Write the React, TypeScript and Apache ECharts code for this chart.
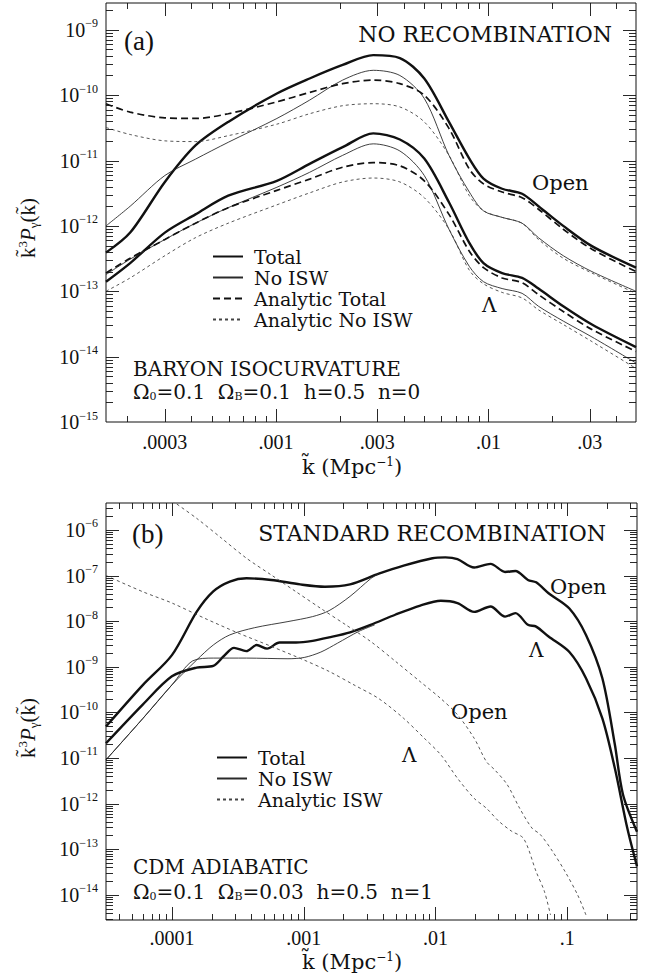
import React, { useEffect, useRef } from "react";
import * as echarts from "echarts";

const FONT = '"Liberation Serif", "Times New Roman", serif';
const WFONT = '"DejaVu Serif", "Liberation Serif", serif';
const INK = "#111";

// ---------- Panel (a): NO RECOMBINATION ----------
const aXMin = 1.585e-4;
const aXMax = 0.0495;
const aYMin = 1e-15;
const aYMax = 2.57e-9;
const aK = [1.585e-4, 2.06e-4, 3.0e-4, 4.18e-4, 5.96e-4, 1.01e-3, 1.44e-3, 2.06e-3, 2.87e-3, 3.83e-3, 4.99e-3, 6.52e-3, 8.13e-3, 9.48e-3, 1.16e-2, 1.44e-2, 1.72e-2, 2.25e-2, 3.07e-2, 4.95e-2];
const aOpenTotal = [3.9e-13, 7.9e-13, 4.7e-12, 1.7e-11, 3.9e-11, 1.06e-10, 1.8e-10, 2.9e-10, 4.1e-10, 3.7e-10, 1.8e-10, 3.9e-11, 1.07e-11, 5.3e-12, 3.7e-12, 3.1e-12, 2.0e-12, 1.0e-12, 4.9e-13, 2.3e-13];
const aOpenNoISW = [1.0e-12, 2.0e-12, 5.9e-12, 1.05e-11, 1.9e-11, 4.4e-11, 8.4e-11, 1.7e-10, 2.4e-10, 2.0e-10, 8.9e-11, 1.2e-11, 3.3e-12, 1.7e-12, 1.35e-12, 1.1e-12, 6.6e-13, 3.5e-13, 2.0e-13, 1.0e-13];
const aOpenAnaTotal = [7.4e-11, 5.5e-11, 4.5e-11, 4.4e-11, 5.2e-11, 7.9e-11, 1.1e-10, 1.5e-10, 1.7e-10, 1.5e-10, 1.0e-10, 3.1e-11, 7.4e-12, 4.4e-12, 3.3e-12, 2.7e-12, 1.8e-12, 8.9e-13, 4.4e-13, 2.0e-13];
const aOpenAnaNoISW = [3.2e-11, 2.5e-11, 2.0e-11, 1.95e-11, 2.4e-11, 3.6e-11, 5.2e-11, 6.9e-11, 7.4e-11, 6.6e-11, 3.9e-11, 1.2e-11, 2.9e-12, 1.7e-12, 1.35e-12, 1.1e-12, 6.2e-13, 3.2e-13, 1.9e-13, 9.3e-14];
const aLamTotal = [1.4e-13, 2.7e-13, 7.9e-13, 1.5e-12, 2.9e-12, 4.9e-12, 8.9e-12, 1.6e-11, 2.6e-11, 2.1e-11, 1.07e-11, 2.3e-12, 5.5e-13, 2.7e-13, 1.9e-13, 1.6e-13, 1.1e-13, 5.9e-14, 3.1e-14, 1.4e-14];
const aLamNoISW = [1.8e-13, 3.1e-13, 6.2e-13, 1.1e-12, 1.9e-12, 3.9e-12, 6.6e-12, 1.2e-11, 1.8e-11, 1.4e-11, 5.9e-12, 8.9e-13, 2.4e-13, 1.4e-13, 1.1e-13, 9.3e-14, 5.9e-14, 3.5e-14, 2.0e-14, 8.0e-15];
const aLamAnaTotal = [1.9e-13, 3.2e-13, 6.2e-13, 1.1e-12, 1.9e-12, 3.5e-12, 5.2e-12, 7.9e-12, 9.3e-12, 8.3e-12, 4.9e-12, 1.5e-12, 4.1e-13, 2.3e-13, 1.6e-13, 1.35e-13, 8.9e-14, 4.9e-14, 2.6e-14, 1.2e-14];
const aLamAnaNoISW = [1.0e-13, 1.6e-13, 3.5e-13, 6.6e-13, 1.1e-12, 2.1e-12, 3.2e-12, 4.7e-12, 5.4e-12, 4.7e-12, 2.7e-12, 8.9e-13, 2.1e-13, 1.3e-13, 9.6e-14, 7.9e-14, 5.2e-14, 3.1e-14, 1.7e-14, 6.6e-15];
const aXLabelVals = [0.0003, 0.001, 0.003, 0.01, 0.03];
const aXLabels = [".0003", ".001", ".003", ".01", ".03"];
const aYDecades = [1e-15, 1e-14, 1e-13, 1e-12, 1e-11, 1e-10, 1e-9];

// ---------- Panel (b): STANDARD RECOMBINATION ----------
const bXMin = 3.16e-5;
const bXMax = 0.339;
const bYMin = 2.8e-15;
const bYMax = 3.9e-6;
const bOpenTotal = [
  [3.16e-5, 4.9e-11], [6.03e-5, 4.0e-10], [1.0e-4, 1.8e-9], [1.54e-4, 1.6e-8], [2.06e-4, 4.5e-8],
  [2.75e-4, 7.4e-8], [3.68e-4, 8.7e-8], [5.68e-4, 8.0e-8], [9.4e-4, 6.4e-8], [1.45e-3, 5.7e-8],
  [2.25e-3, 6.4e-8], [3.72e-3, 1.1e-7], [5.74e-3, 1.65e-7], [9.5e-3, 2.4e-7], [1.19e-2, 2.5e-7],
  [1.47e-2, 2.3e-7], [1.97e-2, 1.5e-7], [2.62e-2, 1.8e-7], [3.38e-2, 1.2e-7], [4.05e-2, 1.26e-7],
  [5.04e-2, 8.0e-8], [5.82e-2, 7.1e-8], [7.23e-2, 4.1e-8], [0.104, 1.9e-8], [0.139, 5.0e-9],
  [0.185, 5.6e-10], [0.23, 2.0e-11], [0.265, 1.6e-12], [0.339, 2.4e-13],
];
const bLamTotal = [
  [3.16e-5, 2.1e-11], [6.03e-5, 1.5e-10], [1.0e-4, 6.2e-10], [1.54e-4, 9.6e-10], [2.06e-4, 1.04e-9],
  [2.47e-4, 1.7e-9], [2.96e-4, 2.6e-9], [3.67e-4, 2.2e-9], [4.4e-4, 3.0e-9], [5.28e-4, 2.5e-9],
  [6.56e-4, 3.4e-9], [8.77e-4, 3.4e-9], [1.17e-3, 3.7e-9], [1.56e-3, 4.4e-9], [2.25e-3, 5.7e-9],
  [3.22e-3, 8.3e-9], [5.0e-3, 1.4e-8], [7.68e-3, 2.2e-8], [1.1e-2, 2.8e-8], [1.47e-2, 2.5e-8],
  [1.97e-2, 1.6e-8], [2.62e-2, 2.1e-8], [3.38e-2, 1.26e-8], [4.05e-2, 1.5e-8], [5.04e-2, 8.3e-9],
  [5.82e-2, 7.6e-9], [7.23e-2, 4.6e-9], [0.104, 2.1e-9], [0.139, 5.6e-10], [0.185, 7.4e-11],
  [0.23, 6.0e-12], [0.286, 2.9e-13], [0.339, 4.2e-14],
];
const bOpenNoISW = [
  [3.16e-5, 9.1e-12], [6.03e-5, 7.4e-11], [1.0e-4, 4.0e-10], [1.54e-4, 1.4e-9], [2.06e-4, 3.0e-9],
  [2.75e-4, 5.0e-9], [4.25e-4, 7.2e-9], [7.6e-4, 9.8e-9], [1.17e-3, 1.26e-8], [1.56e-3, 1.7e-8],
  [2.25e-3, 3.5e-8], [3.22e-3, 8.5e-8], [3.72e-3, 1.1e-7],
];
const bLamNoISW = [
  [3.16e-5, 9.1e-12], [6.03e-5, 7.4e-11], [1.0e-4, 4.0e-10], [1.44e-4, 1.35e-9], [2.06e-4, 1.55e-9],
  [3.68e-4, 1.55e-9], [7.6e-4, 1.5e-9], [1.01e-3, 1.6e-9], [1.35e-3, 2.1e-9], [1.81e-3, 3.3e-9],
  [2.6e-3, 5.9e-9], [3.46e-3, 8.3e-9],
];
const bOpenAnaISW = [
  [1.0e-4, 4.4e-6], [1.54e-4, 1.8e-6], [2.38e-4, 6.6e-7], [3.68e-4, 2.4e-7], [5.68e-4, 1.03e-7],
  [8.77e-4, 4.4e-8], [1.35e-3, 1.9e-8], [2.09e-3, 8.3e-9], [3.22e-3, 3.6e-9], [5.0e-3, 1.3e-9],
  [7.68e-3, 4.7e-10], [1.1e-2, 2.0e-10], [1.47e-2, 8.9e-11], [1.97e-2, 2.7e-11], [2.44e-2, 8.3e-12],
  [2.82e-2, 5.5e-12], [3.51e-2, 2.6e-12], [4.36e-2, 7.9e-13], [5.41e-2, 2.9e-13], [6.25e-2, 2.1e-13],
  [7.76e-2, 8.9e-14], [9.66e-2, 3.2e-14], [0.12, 1.0e-14], [0.139, 3.6e-15],
];
const bLamAnaISW = [
  [3.16e-5, 1.0e-7], [6.03e-5, 4.4e-8], [1.0e-4, 2.5e-8], [1.78e-4, 1.15e-8], [3.18e-4, 5.5e-9],
  [5.68e-4, 2.8e-9], [1.01e-3, 1.4e-9], [1.56e-3, 7.9e-10], [2.41e-3, 4.0e-10], [3.72e-3, 2.0e-10],
  [5.74e-3, 7.4e-11], [8.24e-3, 2.7e-11], [1.1e-2, 1.17e-11], [1.47e-2, 3.6e-12], [1.97e-2, 1.3e-12],
  [2.44e-2, 7.9e-13], [3.03e-2, 4.1e-13], [3.77e-2, 2.5e-13], [4.68e-2, 1.7e-13], [5.82e-2, 3.2e-14],
  [6.71e-2, 1.2e-14], [7.48e-2, 3.6e-15],
];
const bXLabelVals = [0.0001, 0.001, 0.01, 0.1];
const bXLabels = [".0001", ".001", ".01", ".1"];
const bYDecades = [1e-14, 1e-13, 1e-12, 1e-11, 1e-10, 1e-9, 1e-8, 1e-7, 1e-6];

// ---------- helpers (axis decoration only) ----------
function minorTicks(lo: number, hi: number, skip: number[]) {
  const out: number[] = [];
  for (let e = Math.floor(Math.log10(lo)) - 1; e <= Math.ceil(Math.log10(hi)); e++) {
    for (let m = 1; m <= 9; m++) {
      const v = m * Math.pow(10, e);
      if (v > lo * 1.001 && v < hi * 0.999 && !skip.some((s) => Math.abs(s - v) / s < 1e-6)) out.push(v);
    }
  }
  return out;
}
const near = (vals: number[], v: number) => vals.findIndex((t) => Math.abs(t - v) / t < 1e-3);

const labelRich = {
  b: { fontFamily: FONT, fontSize: 20, color: INK },
  e: { fontFamily: FONT, fontSize: 12, color: INK, padding: [0, 0, 13, 0] },
};
const yFmt = (v: number) => {
  const ex = Math.round(Math.log10(v));
  return `{b|10}{e|\u2212${-ex}}`;
};

function logAxis(grid: number, min: number, max: number, pos: string, labelVals: number[], fmt: (v: number) => string, margin: number) {
  return {
    type: "log",
    logBase: 10,
    gridIndex: grid,
    min,
    max,
    position: pos,
    axisLine: { show: false, onZero: false },
    axisTick: { show: false },
    splitLine: { show: false },
    minorTick: { show: false },
    axisPointer: { show: false },
    silent: true,
    axisLabel: {
      show: true,
      customValues: labelVals,
      formatter: fmt,
      margin,
      fontFamily: FONT,
      fontSize: 20,
      color: INK,
      rich: labelRich,
    },
  };
}

// tick marks drawn through the axes' own scales (inside, mirrored on both sides)
function tickSeries(axisIdx: number, dir: "x" | "y", ticks: number[], len: number, other: number) {
  return {
    type: "custom",
    xAxisIndex: axisIdx,
    yAxisIndex: axisIdx,
    silent: true,
    clip: false,
    z: 4,
    data: ticks.map((t) => (dir === "x" ? [t, other] : [other, t])),
    encode: { x: 0, y: 1 },
    renderItem: (params: any, api: any) => {
      const cs = params.coordSys;
      const p = api.coord([api.value(0), api.value(1)]);
      const st = { stroke: INK, lineWidth: 0.9 };
      if (dir === "x") {
        const x = Math.round(p[0]) + 0.5;
        const b = cs.y + cs.height;
        return {
          type: "group",
          children: [
            { type: "line", shape: { x1: x, y1: b, x2: x, y2: b - len }, style: st },
            { type: "line", shape: { x1: x, y1: cs.y, x2: x, y2: cs.y + len }, style: st },
          ],
        };
      }
      const y = Math.round(p[1]) + 0.5;
      const r = cs.x + cs.width;
      return {
        type: "group",
        children: [
          { type: "line", shape: { x1: cs.x, y1: y, x2: cs.x + len, y2: y }, style: st },
          { type: "line", shape: { x1: r, y1: y, x2: r - len, y2: y }, style: st },
        ],
      };
    },
  };
}

function panelTicks(axisIdx: number, xr: number[], yr: number[], xMajor: number[], yMajor: number[]) {
  const xMinor = minorTicks(xr[0], xr[1], xMajor);
  const yMinor = minorTicks(yr[0], yr[1], yMajor);
  return [
    tickSeries(axisIdx, "x", xMajor, 13, yr[0]),
    tickSeries(axisIdx, "x", xMinor, 6, yr[0]),
    tickSeries(axisIdx, "y", yMajor.filter((v) => v > yr[0] * 1.001), 13, xr[0]),
    tickSeries(axisIdx, "y", yMinor, 7, xr[0]),
  ];
}

const THICK = { color: INK, width: 2.4, type: "solid" };
const THIN = { color: "#2a2a2a", width: 0.9, type: "solid" };
const THICK_DASH = { color: INK, width: 1.7, type: [7, 4] };
const THIN_DASH = { color: "#444", width: 0.9, type: [3, 3] };

function line(name: string, data: number[][], axisIdx: number, style: any) {
  return {
    type: "line",
    name,
    data,
    xAxisIndex: axisIdx,
    yAxisIndex: axisIdx,
    symbol: "none",
    showSymbol: false,
    smooth: 0.3,
    clip: true,
    silent: true,
    itemStyle: { color: INK },
    lineStyle: style,
    emphasis: { disabled: true },
  };
}
const zipA = (vals: number[]) => aK.map((k, i) => [k, vals[i]]);

function txt(x: number, y: number, text: string, size = 20, align = "left", extra: any = {}) {
  return {
    type: "text",
    x,
    y,
    silent: true,
    style: { text, fontFamily: WFONT, fontSize: size, fill: INK, align, verticalAlign: "middle", ...extra },
  };
}
const paramRich = {
  t: { fontFamily: WFONT, fontSize: 20, color: INK },
  s: { fontFamily: WFONT, fontSize: 11, color: INK, padding: [8, 0, 0, 0] },
};
const titleRich = {
  t: { fontFamily: FONT, fontSize: 21, color: INK },
  i: { fontFamily: FONT, fontSize: 21, fontStyle: "italic", color: INK },
  sup: { fontFamily: FONT, fontSize: 13, color: INK, padding: [0, 0, 11, 0] },
  sub: { fontFamily: FONT, fontSize: 13, color: INK, padding: [10, 0, 0, 0] },
};
const xTitleRich = {
  t: { fontFamily: WFONT, fontSize: 21, color: INK },
  sup: { fontFamily: WFONT, fontSize: 12, color: INK, padding: [0, 0, 11, 0] },
};

export default function App() {
  const ref = useRef<HTMLDivElement>(null);
  useEffect(() => {
    if (!ref.current) return;
    const chart = echarts.init(ref.current, undefined, { renderer: "svg" });
    const fmtFor = (vals: number[], labs: string[]) => (v: number) => {
      const i = near(vals, v);
      return i >= 0 ? labs[i] : "";
    };
    const legendCommon = {
      orient: "vertical",
      left: 207,
      itemWidth: 30,
      itemHeight: 12,
      itemGap: 0,
      selectedMode: false,
      itemStyle: { opacity: 0 },
      textStyle: { fontFamily: WFONT, fontSize: 19, color: INK, lineHeight: 21, padding: [0, 0, 0, 6] },
    };
    const gridCommon = { show: true, borderColor: INK, borderWidth: 1, backgroundColor: "transparent", containLabel: false, outerBoundsMode: "none" };
    chart.setOption({
      animation: false,
      backgroundColor: "#ffffff",
      grid: [
        { ...gridCommon, left: 106, top: 3, width: 530, height: 419 },
        { ...gridCommon, left: 106, top: 503, width: 531, height: 417 },
      ],
      xAxis: [
        logAxis(0, aXMin, aXMax, "bottom", aXLabelVals, fmtFor(aXLabelVals, aXLabels), 10),
        logAxis(1, bXMin, bXMax, "bottom", bXLabelVals, fmtFor(bXLabelVals, bXLabels), 8),
      ],
      yAxis: [
        logAxis(0, aYMin, aYMax, "left", aYDecades, yFmt, 8),
        logAxis(1, bYMin, bYMax, "left", bYDecades, yFmt, 8),
      ],
      legend: [
        { ...legendCommon, top: 241, data: ["Total", "No ISW", "Analytic Total", "Analytic No ISW"] },
        { ...legendCommon, left: 211, top: 742, data: ["Total", "No ISW", "Analytic ISW"] },
      ],
      series: [
        line("Total", zipA(aOpenTotal), 0, THICK),
        line("No ISW", zipA(aOpenNoISW), 0, THIN),
        line("Analytic Total", zipA(aOpenAnaTotal), 0, THICK_DASH),
        line("Analytic No ISW", zipA(aOpenAnaNoISW), 0, THIN_DASH),
        line("Total", zipA(aLamTotal), 0, THICK),
        line("No ISW", zipA(aLamNoISW), 0, THIN),
        line("Analytic Total", zipA(aLamAnaTotal), 0, THICK_DASH),
        line("Analytic No ISW", zipA(aLamAnaNoISW), 0, THIN_DASH),
        line("Total", bOpenTotal, 1, THICK),
        line("Total", bLamTotal, 1, THICK),
        line("No ISW", bOpenNoISW, 1, THIN),
        line("No ISW", bLamNoISW, 1, THIN),
        line("Analytic ISW", bOpenAnaISW, 1, THIN_DASH),
        line("Analytic ISW", bLamAnaISW, 1, THIN_DASH),
        ...panelTicks(0, [aXMin, aXMax], [aYMin, aYMax], aXLabelVals, aYDecades),
        ...panelTicks(1, [bXMin, bXMax], [bYMin, bYMax], bXLabelVals, bYDecades),
      ],
      graphic: [
        txt(124, 41, "(a)", 27, "left", { fontFamily: FONT }),
        txt(612, 34, "NO RECOMBINATION", 22, "right"),
        txt(532, 183, "Open", 21),
        txt(482, 305, "\u039B", 20),
        txt(133, 369, "BARYON ISOCURVATURE", 20),
        txt(133, 392, "{t|\u03A9}{s|0}{t|=0.1  \u03A9}{s|B}{t|=0.1  h=0.5  n=0}", 20, "left", { rich: paramRich }),
        txt(352, 467, "{t|k\u0303 (Mpc}{sup|\u22121}{t|)}", 21, "center", { rich: xTitleRich }),
        {
          type: "text", x: 28, y: 228, rotation: Math.PI / 2, silent: true,
          style: { text: "{t|k\u0303}{sup|3}{i|P}{sub|\u03B3}{t|(k\u0303)}", rich: titleRich, fontFamily: FONT, fontSize: 21, fill: INK, align: "center", verticalAlign: "middle" },
        },
        txt(132, 534, "(b)", 27, "left", { fontFamily: FONT }),
        txt(606, 533, "STANDARD RECOMBINATION", 22, "right"),
        txt(550, 587, "Open", 21),
        txt(529, 650, "\u039B", 20),
        txt(451, 712, "Open", 21),
        txt(402, 755, "\u039B", 20),
        txt(133, 867, "CDM ADIABATIC", 20),
        txt(133, 892, "{t|\u03A9}{s|0}{t|=0.1  \u03A9}{s|B}{t|=0.03  h=0.5  n=1}", 20, "left", { rich: paramRich }),
        txt(352, 962, "{t|k\u0303 (Mpc}{sup|\u22121}{t|)}", 21, "center", { rich: xTitleRich }),
        {
          type: "text", x: 28, y: 728, rotation: Math.PI / 2, silent: true,
          style: { text: "{t|k\u0303}{sup|3}{i|P}{sub|\u03B3}{t|(k\u0303)}", rich: titleRich, fontFamily: FONT, fontSize: 21, fill: INK, align: "center", verticalAlign: "middle" },
        },
      ],
    });
    return () => chart.dispose();
  }, []);
  return (
    <div
      ref={ref}
      style={{ position: "absolute", left: 0, top: 0, width: 645, height: 975, background: "#fff" }}
    />
  );
}
